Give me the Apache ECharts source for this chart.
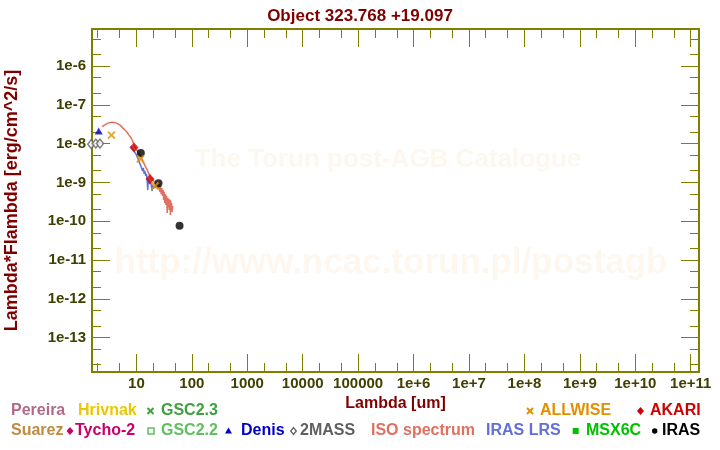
<!DOCTYPE html>
<html><head><meta charset="utf-8">
<script src="https://cdn.jsdelivr.net/npm/echarts/dist/echarts.min.js"></script>
<style>html,body{margin:0;padding:0;background:#fff}#chart{width:720px;height:450px}</style>
</head><body><div id="chart"></div>
<script>
// ---------- data ----------
const titleText = 'Object 323.768 +19.097';
const xName = 'Lambda [um]';
const yName = 'Lambda*Flambda [erg/cm^2/s]';
const xMin = 1.58, xMax = 1.41e11;
const yMin = 1.3e-14, yMax = 9.0e-6;
const xMajorTicks = [10, 100, 1000, 1e4, 1e5, 1e6, 1e7, 1e8, 1e9, 1e10, 1e11];
const xMinorTicks = [2, 5, 20, 50, 200, 500, 2000, 5000, 2e4, 5e4, 2e5, 5e5, 2e6, 5e6, 2e7, 5e7, 2e8, 5e8, 2e9, 5e9, 2e10, 5e10];
const yMajorTicks = [1e-13, 1e-12, 1e-11, 1e-10, 1e-9, 1e-8, 1e-7, 1e-6];
const yMinorTicks = [2e-14, 5e-14, 2e-13, 5e-13, 2e-12, 5e-12, 2e-11, 5e-11, 2e-10, 5e-10, 2e-9, 5e-9, 2e-8, 5e-8, 2e-7, 5e-7, 2e-6, 5e-6];

const isoWave = [2.39, 2.6, 2.8, 3.0, 3.3, 3.55, 3.8, 4.06, 4.4, 4.7, 5.0, 5.3, 5.66, 6.1, 6.6, 7.0, 7.3, 7.7, 8.1, 8.6, 9.1, 9.6, 10.1, 10.8, 11.5, 12.2, 13.0, 13.6, 14.1, 14.8, 15.5, 16.2, 17.0, 18.1, 19.0, 20.0, 21.0, 22.3, 23.2, 24.2, 25.0, 25.8, 26.5, 27.2, 28.0, 28.8, 29.5, 30.3, 31.0, 31.8, 32.5, 33.3, 34.0, 35.0, 36.0, 36.8, 37.5, 38.3, 39.2, 40.0, 41.0, 41.5, 42.0, 43.0, 44.0, 45.0];
const isoFlux = [2.75e-8, 2.96e-8, 3.16e-8, 3.33e-8, 3.48e-8, 3.55e-8, 3.57e-8, 3.5e-8, 3.37e-8, 3.24e-8, 3.05e-8, 2.82e-8, 2.55e-8, 2.27e-8, 2.05e-8, 1.84e-8, 1.68e-8, 1.54e-8, 1.38e-8, 1.15e-8, 9.0e-9, 8.0e-9, 6.9e-9, 5.95e-9, 5.1e-9, 4.4e-9, 3.6e-9, 3.2e-9, 2.83e-9, 2.44e-9, 2.16e-9, 1.9e-9, 1.61e-9, 1.3e-9, 1.23e-9, 1.16e-9, 1.03e-9, 9.1e-10, 8.1e-10, 8.5e-10, 6.8e-10, 9.1e-10, 5.7e-10, 8.1e-10, 5.0e-10, 7.2e-10, 4.5e-10, 6.4e-10, 3.5e-10, 5.7e-10, 2.95e-10, 5.0e-10, 2.62e-10, 4.5e-10, 1.63e-10, 4.0e-10, 2.33e-10, 3.8e-10, 1.95e-10, 3.6e-10, 1.45e-10, 3.4e-10, 2.2e-10, 2.95e-10, 1.73e-10, 2.47e-10];

const lrsWave = [7.9, 8.5, 9.0, 9.5, 10.0, 10.5, 11.0, 11.5, 12.0, 12.5, 12.9, 13.3, 13.8, 14.2, 14.7, 15.2, 15.6, 16.0, 16.4, 16.9, 17.4, 18.0, 18.6, 19.2, 19.6, 20.2, 21.0, 21.8, 22.6];
const lrsFlux = [8.7e-9, 7.3e-9, 6.5e-9, 5.8e-9, 5.1e-9, 4.3e-9, 3.6e-9, 3.2e-9, 2.67e-9, 3.0e-9, 1.98e-9, 2.37e-9, 1.66e-9, 1.98e-9, 1.47e-9, 1.66e-9, 1.16e-9, 6.4e-10, 1.23e-9, 1.09e-9, 9.1e-10, 1.03e-9, 8.1e-10, 6.0e-10, 8.5e-10, 7.2e-10, 8.1e-10, 6.8e-10, 7.6e-10];

const twomassWave = [1.53, 1.85, 2.2];
const twomassFlux = [9.7e-9, 1.0e-8, 1.0e-8];
const denisWave = [2.09];
const denisFlux = [2.1e-8];
const allwiseWave = [3.54, 11.8, 21.7];
const allwiseFlux = [1.66e-8, 4.0e-9, 8.1e-10];
const akariWave = [9.05, 17.6];
const akariFlux = [7.9e-9, 1.23e-9];
const irasWave = [12, 25, 60];
const irasFlux = [5.7e-9, 9.5e-10, 7.6e-11];

const legendRow1 = ['Pereira', 'Hrivnak', 'GSC2.3', 'ALLWISE', 'AKARI'];
const legendRow2 = ['Suarez', 'Tycho-2', 'GSC2.2', 'Denis', '2MASS', 'ISO spectrum', 'IRAS LRS', 'MSX6C', 'IRAS'];
const watermark1 = 'The Torun post-AGB Catalogue';
const watermark2 = 'http://www.ncac.torun.pl/postagb';

// ---------- styles ----------
const FONT = '"Liberation Sans", Arial, sans-serif';
const axisColor = '#808000';
const labelColor = '#404000';
const titleColor = '#800000';
const C = {
  Pereira: '#b06a88', Hrivnak: '#e8c800', 'GSC2.3': '#3fa040', Suarez: '#c08a40',
  'Tycho-2': '#c8006a', 'GSC2.2': '#60c060', Denis: '#0000c8', '2MASS': '#606060',
  'ISO spectrum': '#e07060', 'IRAS LRS': '#6070d8', MSX6C: '#00c000', IRAS: '#000000',
  ALLWISE: '#e09000', AKARI: '#d00000'
};

const zip = (a, b) => a.map((v, i) => [v, b[i]]);
const expOf = v => Math.round(Math.log10(v));
const fmtX = v => { const e = expOf(v); return e <= 5 ? String(Math.pow(10, e)) : '1e+' + e; };
const fmtY = v => '1e' + expOf(v);

function makeAxis(kind, position, ticks, len, withLabels, withLine) {
  const ax = {
    type: 'log', logBase: 10, position: position, gridIndex: 0,
    min: kind === 'x' ? xMin : yMin, max: kind === 'x' ? xMax : yMax,
    axisLine: { show: withLine, lineStyle: { color: axisColor, width: 2 } },
    axisTick: { show: true, inside: true, length: len, customValues: ticks, lineStyle: { color: axisColor, width: 1 } },
    minorTick: { show: false }, splitLine: { show: false }, minorSplitLine: { show: false },
    axisLabel: { show: false }
  };
  if (withLabels) {
    ax.axisLabel = { show: true, customValues: ticks, formatter: kind === 'x' ? fmtX : fmtY,
      margin: kind === 'x' ? 4 : 6, color: labelColor, fontWeight: 'bold', fontSize: 15, fontFamily: FONT };
  }
  return ax;
}

const xAxes = [
  makeAxis('x', 'bottom', xMajorTicks, 18, true, true),
  makeAxis('x', 'bottom', xMinorTicks, 9, false, false),
  makeAxis('x', 'top', xMajorTicks, 18, false, true),
  makeAxis('x', 'top', xMinorTicks, 9, false, false)
];
Object.assign(xAxes[0], { name: xName, nameLocation: 'middle', nameGap: 23,
  nameTextStyle: { color: titleColor, fontWeight: 'bold', fontSize: 16, fontFamily: FONT } });
const yAxes = [
  makeAxis('y', 'left', yMajorTicks, 18, true, true),
  makeAxis('y', 'left', yMinorTicks, 9, false, false),
  makeAxis('y', 'right', yMajorTicks, 18, false, true),
  makeAxis('y', 'right', yMinorTicks, 9, false, false)
];
Object.assign(yAxes[0], { name: yName, nameLocation: 'middle', nameGap: 71,
  nameTextStyle: { color: titleColor, fontWeight: 'bold', fontSize: 18, fontFamily: FONT } });

// ---------- legend (graphic) ----------
const g = [];
const R1 = 411, R2 = 431;
function txt(x, y, s) {
  g.push({ type: 'text', x: x, y: y, style: { text: s, fill: C[s], font: 'bold 16px ' + FONT, verticalAlign: 'middle', align: 'left' } });
}
function cross(cx, cy, col) {
  g.push({ type: 'line', shape: { x1: cx - 3, y1: cy - 3, x2: cx + 3, y2: cy + 3 }, style: { stroke: col, lineWidth: 2 } });
  g.push({ type: 'line', shape: { x1: cx - 3, y1: cy + 3, x2: cx + 3, y2: cy - 3 }, style: { stroke: col, lineWidth: 2 } });
}
function diamond(cx, cy, col, filled) {
  const w = filled ? 3.5 : 2.8, h = filled ? 4 : 3.4;
  g.push({ type: 'polygon', shape: { points: [[cx, cy - h], [cx + w, cy], [cx, cy + h], [cx - w, cy]] },
    style: filled ? { fill: col } : { fill: 'none', stroke: col, lineWidth: 1.3 } });
}
function square(cx, cy, col, filled) {
  g.push({ type: 'rect', shape: { x: cx - 3, y: cy - 3, width: 6, height: 6 },
    style: filled ? { fill: col } : { fill: 'none', stroke: col, lineWidth: 1.5 } });
}
function tri(cx, cy, col) {
  g.push({ type: 'polygon', shape: { points: [[cx, cy - 3.5], [cx + 3.5, cy + 2.5], [cx - 3.5, cy + 2.5]] }, style: { fill: col } });
}
function dot(cx, cy, col) { g.push({ type: 'circle', shape: { cx: cx, cy: cy, r: 2.7 }, style: { fill: col } }); }

txt(11, R1, legendRow1[0]);
txt(78, R1, legendRow1[1]);
cross(150.5, R1, C['GSC2.3']); txt(161, R1, legendRow1[2]);
cross(530, R1, C.ALLWISE); txt(540, R1, legendRow1[3]);
diamond(640.5, R1, C.AKARI, true); txt(650, R1, legendRow1[4]);

txt(11, R2, legendRow2[0]);
diamond(70, R2, C['Tycho-2'], true); txt(75, R2, legendRow2[1]);
square(151, R2, C['GSC2.2'], false); txt(161, R2, legendRow2[2]);
tri(228.5, R2, C.Denis); txt(241, R2, legendRow2[3]);
diamond(293.5, R2, C['2MASS'], false); txt(300, R2, legendRow2[4]);
txt(371, R2, legendRow2[5]);
txt(486, R2, legendRow2[6]);
square(575.7, R2, C.MSX6C, true); txt(586, R2, legendRow2[7]);
dot(654.7, R2, C.IRAS); txt(662, R2, legendRow2[8]);

// watermark
g.push({ type: 'text', x: 388, y: 160, z: -1, style: { text: watermark1, fill: '#fdf7f0', font: 'bold 26px ' + FONT, align: 'center', verticalAlign: 'middle' } });
g.push({ type: 'text', x: 391, y: 263, z: -1, style: { text: watermark2, fill: '#fdf7f0', font: 'bold 35px ' + FONT, align: 'center', verticalAlign: 'middle' } });

const option = {
  animation: false,
  backgroundColor: '#ffffff',
  title: { text: titleText, left: 'center', top: 3,
    textStyle: { color: titleColor, fontWeight: 'bold', fontSize: 17, fontFamily: FONT } },
  grid: { left: 92, right: 21, top: 29, bottom: 78, containLabel: false, outerBoundsMode: 'none' },
  xAxis: xAxes,
  yAxis: yAxes,
  graphic: g,
  series: [
    { name: 'IRAS LRS', type: 'line', data: zip(lrsWave, lrsFlux), showSymbol: false, symbol: 'none',
      lineStyle: { color: C['IRAS LRS'], width: 1.5 }, z: 2 },
    { name: 'ISO spectrum', type: 'line', data: zip(isoWave, isoFlux), showSymbol: false, symbol: 'none',
      lineStyle: { color: C['ISO spectrum'], width: 1.5 }, z: 3 },
    { name: '2MASS', type: 'scatter', data: zip(twomassWave, twomassFlux), symbol: 'diamond', symbolSize: [7, 9], clip: false,
      itemStyle: { color: '#ffffff', borderColor: C['2MASS'], borderWidth: 1.5 }, z: 4 },
    { name: 'Denis', type: 'scatter', data: zip(denisWave, denisFlux), symbol: 'triangle', symbolSize: [8, 7],
      itemStyle: { color: C.Denis }, z: 4 },
    { name: 'IRAS', type: 'scatter', data: zip(irasWave, irasFlux), symbol: 'circle', symbolSize: 8,
      itemStyle: { color: C.IRAS }, z: 5 },
    { name: 'AKARI', type: 'scatter', data: zip(akariWave, akariFlux), symbol: 'diamond', symbolSize: [9, 10],
      itemStyle: { color: C.AKARI }, z: 6 },
    { name: 'ALLWISE', type: 'scatter', data: zip(allwiseWave, allwiseFlux), symbol: 'path://M0,0L10,10M0,10L10,0', symbolSize: 7,
      itemStyle: { color: C.ALLWISE, borderColor: C.ALLWISE, borderWidth: 2 }, z: 7 }
  ]
};
const chart = echarts.init(document.getElementById('chart'), null, { renderer: 'canvas' });
chart.setOption(option);
</script></body></html>
